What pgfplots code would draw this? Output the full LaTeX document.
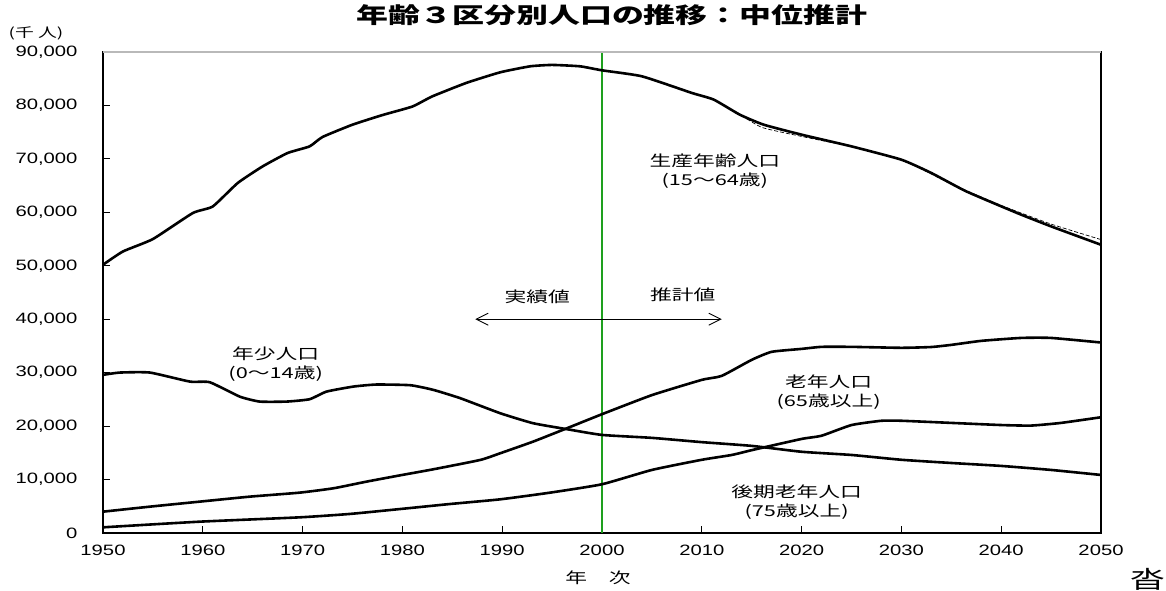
\documentclass[border=0pt]{standalone}
\usepackage{fontspec}
\usepackage{pgfplots}
\pgfplotsset{compat=1.18}
\usetikzlibrary{arrows.meta}
\setmainfont{Noto Sans CJK JP}[FakeStretch=1.45]
\newfontfamily\tickfont{Liberation Sans}[FakeStretch=1.35]
\definecolor{divgreen}{RGB}{30,160,30}

\pgfplotstableread{
year val
1950 50190
1952 52680
1955 55000
1959 59870
1961 61100
1963.5 65490
1966 68600
1968.5 71100
1970.7 72340
1972 74100
1975 76400
1978 78200
1981 79800
1983 81700
1986.4 84210
1989.8 86200
1992.8 87320
1995 87580
1997.8 87320
2000 86570
2004 85450
2009 82340
2011.2 81090
2013.8 78280
2016.2 76400
2020 74530
2025 72340
2030 69850
2033 67360
2036.5 63920
2041.6 59870
2045 57370
2050 53930
}\working

\pgfplotstableread{
year val
2013.5 78700
2016 75900
2020 74200
2025 72300
2030 69900
2035 65300
2040 61300
2045 57800
2050 54900
}\workingold

\pgfplotstableread{
year val
1950 29590
1951.7 30020
1954.7 30020
1958.7 28330
1960.7 28210
1963.7 25520
1965.7 24590
1968.4 24590
1970.7 25030
1972.4 26460
1975.1 27400
1977.4 27780
1980.8 27650
1983.1 26780
1985.8 25220
1989.8 22410
1993.1 20540
1996.5 19420
2000 18350
2005 17800
2010 17000
2015 16300
2020 15200
2025 14600
2030 13700
2035 13100
2040 12550
2045 11800
2050 10860
}\youth

\pgfplotstableread{
year val
1950 3990
1954.7 4930
1959.7 5870
1964.7 6800
1969.7 7550
1973.1 8370
1976.4 9610
1979.8 10800
1983.1 11920
1987.8 13670
1989.8 14920
1993.1 17100
1996.5 19610
2000 22230
2005 25800
2010 28650
2012 29400
2015 32400
2017 33900
2020 34450
2022 34830
2025 34830
2030 34650
2033 34800
2035 35200
2038 35950
2042 36500
2045 36500
2050 35640
}\elderly

\pgfplotstableread{
year val
1950 1060
1959.7 2120
1969.7 2930
1974.7 3560
1979.8 4490
1984.8 5430
1989.8 6300
1994.8 7550
2000 9120
2005 11800
2010 13700
2013 14600
2015 15500
2020 17600
2022 18200
2025 20200
2028 21000
2030 21000
2035 20600
2040 20200
2043 20100
2046 20600
2050 21660
}\oldold

\begin{document}
\begin{tikzpicture}[x=1pt,y=1pt]
\useasboundingbox (0,0) rectangle (1166,591);
\begin{axis}[
  at={(103pt,58pt)}, anchor=south west,
  scale only axis, width=998pt, height=481pt,
  xmin=1950, xmax=2050, ymin=0, ymax=90000,
  xtick={1950,1960,...,2050}, ytick={0,10000,...,90000},
  xtick pos=bottom, ytick pos=left, tick align=inside,
  major tick length=7pt,
  scaled y ticks=false,
  /pgf/number format/assume math mode=true,
  x tick label style={font={\tickfont\fontsize{15pt}{15pt}\selectfont}, /pgf/number format/1000 sep={}, yshift=-8pt},
  y tick label style={font={\tickfont\fontsize{15pt}{15pt}\selectfont}, /pgf/number format/1000 sep={,}, xshift=-22pt},
  axis line style={black, line width=1.6pt},
  tick style={black, line width=1pt},
  clip=false,
  curve/.style={black, line width=2.6pt, line join=round, smooth, tension=0.3},
]
\addplot[divgreen, line width=1.3pt] coordinates {(2000,0) (2000,90000)};
\addplot[black, line width=0.7pt, dash pattern=on 4pt off 2pt, smooth, tension=0.3] table[x=year,y=val] {\workingold};
\addplot[curve] table[x=year,y=val] {\working};
\addplot[curve] table[x=year,y=val] {\youth};
\addplot[curve] table[x=year,y=val] {\elderly};
\addplot[curve] table[x=year,y=val] {\oldold};
\addplot[black, line width=0.9pt, {Straight Barb[length=12pt,width=12pt]}-{Straight Barb[length=12pt,width=12pt]}] coordinates {(1987.3,40000) (2012,40000)};
\draw[gray!55, line width=1.6pt] (rel axis cs:0,1) -- (rel axis cs:1,1);
\node[font=\fontsize{15pt}{19pt}\selectfont, align=center] at (axis cs:2011.3,67800) {生産年齢人口\\(15～64歳)};
\node[font=\fontsize{15pt}{19pt}\selectfont, align=center] at (axis cs:1967.3,31650) {年少人口\\(0～14歳)};
\node[font=\fontsize{15pt}{19pt}\selectfont, align=center] at (axis cs:2022.7,26400) {老年人口\\(65歳以上)};
\node[font=\fontsize{15pt}{19pt}\selectfont, align=center] at (axis cs:2019.5,5800) {後期老年人口\\(75歳以上)};
\node[font=\fontsize{15pt}{15pt}\selectfont] at (axis cs:1993.5,44200) {実績値};
\node[font=\fontsize{15pt}{15pt}\selectfont] at (axis cs:2008.1,44600) {推計値};
\end{axis}
\node[font=\fontsize{22pt}{22pt}\selectfont\bfseries] at (612,576) {年齢３区分別人口の推移：中位推計};
\node[font=\fontsize{13pt}{13pt}\selectfont] at (36,558) {(千 人)};
\node[font=\fontsize{15pt}{15pt}\selectfont] at (598,13) {年　次};
\node[font=\fontsize{24pt}{24pt}\selectfont] at (1148,12) {沓};
\end{tikzpicture}
\end{document}
